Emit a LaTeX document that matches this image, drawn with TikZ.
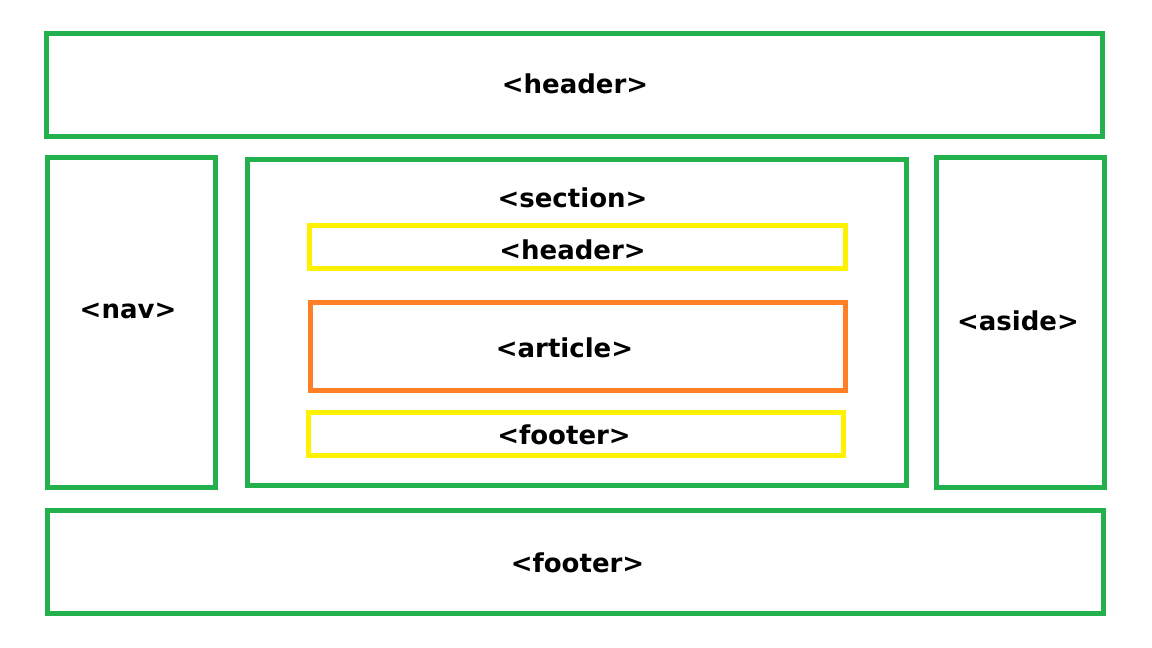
\documentclass[tikz,border=0pt]{standalone}
\usepackage{fontspec}
\setmainfont{DejaVu Sans}
\definecolor{pgreen}{RGB}{34,177,76}
\definecolor{pyellow}{RGB}{255,242,0}
\definecolor{porange}{RGB}{255,127,39}
\begin{document}
\begin{tikzpicture}[x=1pt,y=-1pt,
  gbox/.style={draw=pgreen,line width=5pt},
  ybox/.style={draw=pyellow,line width=5pt},
  obox/.style={draw=porange,line width=5pt},
  lbl/.style={anchor=base,inner sep=0pt,font=\fontsize{26}{30}\selectfont\bfseries,text=black}]
\useasboundingbox (0,0) rectangle (1152,648);
\draw[gbox] (46.5,33.5) rectangle (1102.5,136);
\draw[gbox] (47.5,157.5) rectangle (215.5,487);
\draw[gbox] (247.5,159.5) rectangle (906.5,485);
\draw[gbox] (936.5,157.5) rectangle (1104.5,487);
\draw[gbox] (47.5,510.5) rectangle (1103.5,613.5);
\draw[ybox] (309.5,225.5) rectangle (845.5,268.5);
\draw[obox] (310.5,302.5) rectangle (845.5,390.5);
\draw[ybox] (308.5,412.5) rectangle (843.5,455);
\node[lbl] (hdr) at (575,93) {<header>};
\node[lbl] (nav) at (128,318) {<nav>};
\node[lbl] (sec) at (572.5,207) {<section>};
\node[lbl] (asd) at (1018,330) {<aside>};
\node[lbl] (ihdr) at (572.5,259) {<header>};
\node[lbl] (art) at (564.5,357) {<article>};
\node[lbl] (iftr) at (564,444) {<footer>};
\node[lbl] (ftr) at (577.5,572) {<footer>};
\end{tikzpicture}
\end{document}
